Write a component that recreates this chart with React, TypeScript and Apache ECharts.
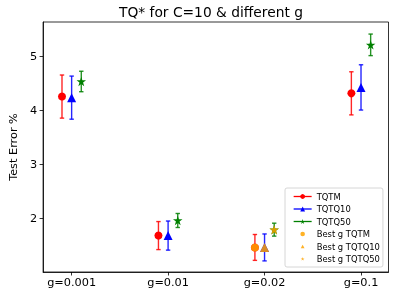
import React, { useEffect, useRef } from "react";
import * as echarts from "echarts";

const categories = ["g=0.001", "g=0.01", "g=0.02", "g=0.1"];
const yTicks = [2, 3, 4, 5];
const tqtmMean = [4.26, 1.68, 1.46, 4.32];
const tqtmErr = [0.4, 0.26, 0.24, 0.4];
const tqtq10Mean = [4.24, 1.68, 1.46, 4.43];
const tqtq10Err = [0.4, 0.27, 0.25, 0.42];
const tqtq50Mean = [4.54, 1.96, 1.79, 5.22];
const tqtq50Err = [0.19, 0.13, 0.12, 0.2];
const bestIndex = 2;

const STAR_D =
  "M0,-1L0.2245,-0.309L0.951,-0.309L0.363,0.118L0.588,0.809L0,0.382L-0.588,0.809L-0.363,0.118L-0.951,-0.309L-0.2245,-0.309Z";
const STAR = "path://" + STAR_D;
// legend icons with an invisible 18x6 frame so that the mark stays small
const LEG_CIRCLE = "path://M-9,-3M9,3M2.3,0A2.3,2.3,0,1,1,-2.3,0A2.3,2.3,0,1,1,2.3,0Z";
const LEG_TRI = "path://M-9,-3M9,3M0,-1.8L1.9,1.7L-1.9,1.7Z";
const LEG_STAR =
  "path://M-9,-3M9,3M0,-2L0.45,-0.62L1.9,-0.62L0.73,0.24L1.18,1.62L0,0.76L-1.18,1.62L-0.73,0.24L-1.9,-0.62L-0.45,-0.62Z";

const FONT = "DejaVu Sans";

type S = { name: string; mean: number[]; err: number[]; offset: number; color: string; symbol: string; size: number; leg: string };
const groups: S[] = [
  { name: "TQTM", mean: tqtmMean, err: tqtmErr, offset: -0.1, color: "#ff0000", symbol: "circle", size: 8, leg: LEG_CIRCLE },
  { name: "TQTQ10", mean: tqtq10Mean, err: tqtq10Err, offset: 0, color: "#0000ff", symbol: "triangle", size: 9, leg: LEG_TRI },
  { name: "TQTQ50", mean: tqtq50Mean, err: tqtq50Err, offset: 0.1, color: "#008000", symbol: STAR, size: 9.5, leg: LEG_STAR },
];

export default function App() {
  const ref = useRef<HTMLDivElement>(null);
  useEffect(() => {
    const chart = echarts.init(ref.current!, null, { renderer: "svg" });
    const series: any[] = [];
    groups.forEach((g) => {
      series.push({
        type: "custom",
        silent: true,
        z: 2,
        data: g.mean.map((m, i) => [i + g.offset, m - g.err[i], m + g.err[i]]),
        renderItem: (params: any, api: any) => {
          const x = api.value(0);
          const p1 = api.coord([x, api.value(2)]);
          const p2 = api.coord([x, api.value(1)]);
          const cw = 2.2;
          const st = { stroke: g.color, lineWidth: 1.4, opacity: 0.85 };
          return {
            type: "group",
            children: [
              { type: "line", shape: { x1: p1[0], y1: p1[1], x2: p2[0], y2: p2[1] }, style: st },
              { type: "line", shape: { x1: p1[0] - cw, y1: p1[1], x2: p1[0] + cw, y2: p1[1] }, style: st },
              { type: "line", shape: { x1: p2[0] - cw, y1: p2[1], x2: p2[0] + cw, y2: p2[1] }, style: st },
            ],
          };
        },
      });
      series.push({
        type: "line",
        name: g.name,
        z: 3,
        symbol: g.symbol,
        symbolSize: g.size,
        showSymbol: true,
        itemStyle: { color: g.color },
        lineStyle: { color: g.color, width: 1.5, opacity: 0 },
        data: g.mean.map((m, i) => [i + g.offset, m]),
      });
    });
    groups.forEach((g) => {
      series.push({
        type: "scatter",
        name: "Best g " + g.name,
        z: 4,
        symbol: g.symbol,
        symbolSize: g.size,
        itemStyle: { color: "#ffa500", opacity: 0.85 },
        data: [[bestIndex + g.offset, g.mean[bestIndex]]],
      });
    });

    chart.setOption({
      animation: false,
      textStyle: { fontFamily: FONT },
      title: {
        text: "TQ* for C=10 & different g",
        left: 119,
        top: 5,
        padding: 0,
        textStyle: { fontFamily: FONT, fontSize: 13.8, fontWeight: "normal", color: "#000" },
      },
      grid: { left: 34, right: 9.5, top: 22, bottom: 24, show: true, borderColor: "#000", borderWidth: 0.8 },
      xAxis: {
        type: "value",
        min: -0.296,
        max: 3.285,
        splitLine: { show: false },
        axisLine: { show: true, onZero: false, lineStyle: { color: "#000", width: 0.8 } },
        axisTick: { show: true, length: 3.5, lineStyle: { color: "#000", width: 0.8 }, customValues: [0, 1, 2, 3] },
        axisLabel: {
          color: "#000",
          fontSize: 11.3,
          fontFamily: FONT,
          margin: 5,
          customValues: [0, 1, 2, 3],
          formatter: (v: number) => categories[Math.round(v)],
        },
      },
      yAxis: {
        type: "value",
        min: 1.004,
        max: 5.644,
        name: "Test Error %",
        nameLocation: "middle",
        nameGap: 18,
        nameTextStyle: { color: "#000", fontSize: 11.3, fontFamily: FONT },
        splitLine: { show: false },
        axisLine: { show: true, onZero: false, lineStyle: { color: "#000", width: 0.8 } },
        axisTick: { show: true, length: 3.5, lineStyle: { color: "#000", width: 0.8 }, customValues: yTicks },
        axisLabel: { color: "#000", fontSize: 11.3, fontFamily: FONT, margin: 6, customValues: yTicks },
      },
      legend: {
        orient: "vertical",
        left: 285,
        top: 188,
        padding: [3.5, 3, 3, 8],
        itemWidth: 18,
        itemHeight: 6,
        itemGap: 2.5,
        backgroundColor: "#fff",
        borderColor: "#cccccc",
        borderWidth: 0.8,
        borderRadius: 2,
        textStyle: { fontFamily: FONT, fontSize: 8.4, color: "#000", lineHeight: 10 },
        data: [
          { name: "TQTM", lineStyle: { width: 1.3, opacity: 1 } },
          { name: "TQTQ10", lineStyle: { width: 1.3, opacity: 1 } },
          { name: "TQTQ50", lineStyle: { width: 1.3, opacity: 1 } },
          { name: "Best g TQTM", icon: groups[0].leg },
          { name: "Best g TQTQ10", icon: groups[1].leg },
          { name: "Best g TQTQ50", icon: groups[2].leg },
        ],
      },
      series,
    });
    return () => chart.dispose();
  }, []);
  return <div ref={ref} style={{ position: "fixed", left: 0, top: 0, width: 398, height: 296 }} />;
}
